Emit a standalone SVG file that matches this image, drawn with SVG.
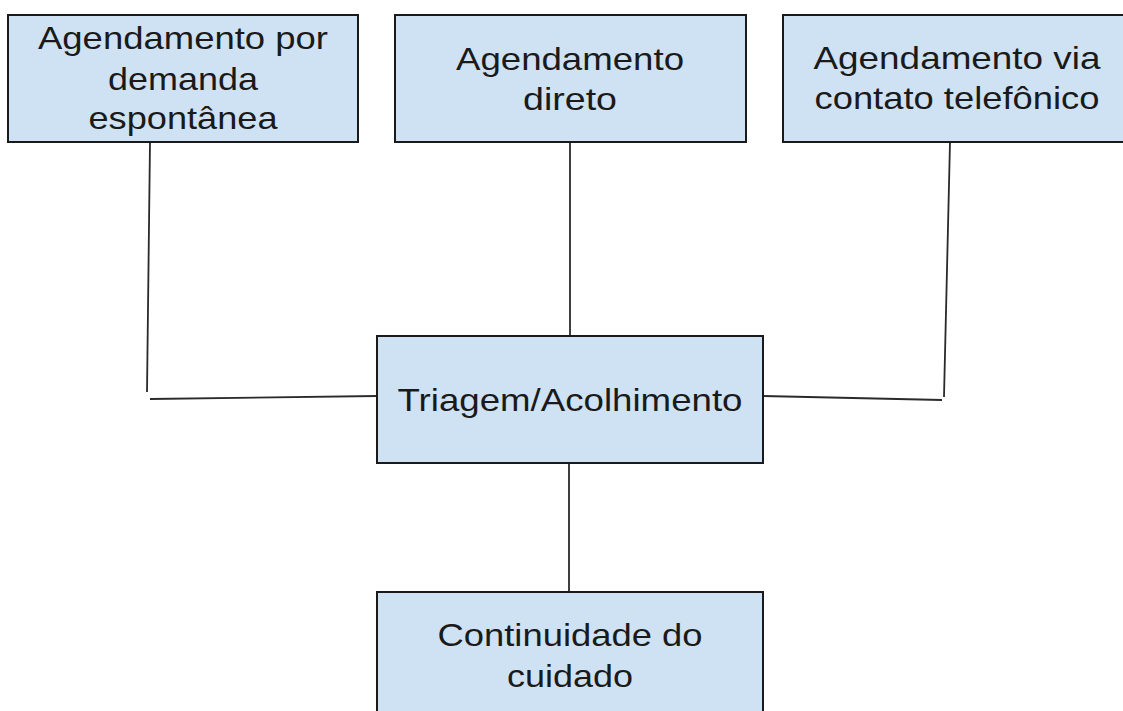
<svg xmlns="http://www.w3.org/2000/svg" width="1123" height="711" viewBox="0 0 1123 711">
<style>
.box{fill:#cfe2f3;stroke:#1a1a1a;stroke-width:2}
.lbl{font-family:"Liberation Sans",Arial,sans-serif;font-size:32px;fill:#1a1a1a;text-anchor:middle}
.con{fill:none;stroke:#2a2a2a;stroke-width:1.8}
</style>
<rect width="1123" height="711" fill="#fff"/>
<g id="connectors">
<polyline class="con" points="150,142 147,392"/>
<polyline class="con" points="150,399 377,396"/>
<polyline class="con" points="570,142 570,336"/>
<polyline class="con" points="950,142 944,397"/>
<polyline class="con" points="763,396 942,400"/>
<polyline class="con" points="569,463 569,592"/>
</g>
<g id="n1">
<rect class="box" x="8" y="15" width="350" height="127"/>
<text class="lbl" x="183" y="49" textLength="290" lengthAdjust="spacingAndGlyphs">Agendamento por</text>
<text class="lbl" x="183" y="90" textLength="150" lengthAdjust="spacingAndGlyphs">demanda</text>
<text class="lbl" x="183" y="129" textLength="189" lengthAdjust="spacingAndGlyphs">espontânea</text>
</g>
<g id="n2">
<rect class="box" x="395" y="15" width="351" height="127"/>
<text class="lbl" x="570" y="70" textLength="228" lengthAdjust="spacingAndGlyphs">Agendamento</text>
<text class="lbl" x="570" y="110" textLength="94" lengthAdjust="spacingAndGlyphs">direto</text>
</g>
<g id="n3">
<rect class="box" x="783" y="15" width="350" height="127"/>
<text class="lbl" x="957" y="69" textLength="287" lengthAdjust="spacingAndGlyphs">Agendamento via</text>
<text class="lbl" x="957" y="109" textLength="285" lengthAdjust="spacingAndGlyphs">contato telefônico</text>
</g>
<g id="n4">
<rect class="box" x="377" y="336" width="386" height="127"/>
<text class="lbl" x="570" y="411" textLength="345" lengthAdjust="spacingAndGlyphs">Triagem/Acolhimento</text>
</g>
<g id="n5">
<rect class="box" x="377" y="592" width="386" height="130"/>
<text class="lbl" x="570" y="646" textLength="265" lengthAdjust="spacingAndGlyphs">Continuidade do</text>
<text class="lbl" x="570" y="687" textLength="126" lengthAdjust="spacingAndGlyphs">cuidado</text>
</g>
</svg>
